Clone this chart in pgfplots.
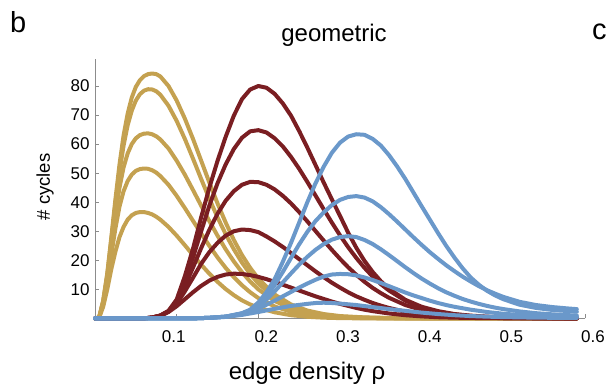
\documentclass[border=0pt]{standalone}
\usepackage{fontspec}
\setmainfont{Liberation Sans}
\usepackage{pgfplots}
\pgfplotsset{compat=1.18}
\definecolor{gold}{HTML}{C4A150}
\definecolor{maroon}{HTML}{7A1E22}
\definecolor{steel}{HTML}{6A98CA}
\definecolor{axgray}{HTML}{8C8C8C}
\begin{document}
\begin{tikzpicture}
\path[use as bounding box] (0pt,0pt) rectangle (606pt,388pt);
\begin{axis}[
 at={(95pt,69.6pt)}, anchor=south west, scale only axis,
 width=490pt, height=259.4pt,
 xmin=0, xmax=0.6, ymin=0, ymax=89.3,
 axis lines*=left, axis line style={axgray, line width=0.8pt},
 clip=false,
 xtick={0.2,0.3,0.4,0.5,0.6}, xticklabels={0.2,0.3,0.4,0.5,0.6},
 extra x ticks={0.1}, extra x tick labels={0.1},
 ytick={10,20,30,40,50,60,70,80},
 tick align=inside, major tick length=4pt,
 tick style={axgray, line width=0.8pt},
 every tick label/.append style={font=\fontsize{17}{19}\selectfont},
 /pgf/number format/assume math mode=true,
 xticklabel style={yshift=-9pt, xshift=8pt},
 extra x tick style={xticklabel style={xshift=-11pt}},
 yticklabel style={xshift=-2pt},
 every axis plot/.append style={line width=4pt, line join=round, line cap=round},
]
% gold family
\addplot[gold] coordinates {(0,0)(0.005,0.3)(0.01,6)(0.015,15.5)(0.02,28)(0.025,41)(0.03,53)(0.035,63)(0.04,70.5)(0.045,76)(0.05,79.7)(0.055,82)(0.06,83.4)(0.065,84.1)(0.07,84.3)(0.075,84.1)(0.08,83.3)(0.09,80)(0.1,75)(0.11,68.8)(0.12,61.8)(0.13,54.3)(0.14,46.8)(0.15,39.6)(0.16,33)(0.17,27)(0.18,21.8)(0.19,17.4)(0.2,13.7)(0.22,8.2)(0.24,4.8)(0.26,2.7)(0.28,1.5)(0.3,0.8)(0.33,0.35)(0.36,0.15)(0.4,0.05)(0.45,0)(0.59,0)};
\addplot[gold] coordinates {(0,0)(0.005,0.3)(0.01,6)(0.015,15)(0.02,27)(0.025,39.5)(0.03,50.5)(0.035,59.5)(0.04,66.5)(0.045,71.5)(0.05,75)(0.055,77.2)(0.06,78.4)(0.065,78.9)(0.07,78.8)(0.075,78.2)(0.08,77)(0.09,73.2)(0.1,68)(0.11,61.8)(0.12,55)(0.13,48)(0.14,41.2)(0.15,34.8)(0.16,29)(0.17,23.8)(0.18,19.2)(0.19,15.3)(0.2,12)(0.22,7.2)(0.24,4.1)(0.26,2.3)(0.28,1.2)(0.3,0.6)(0.33,0.25)(0.36,0.1)(0.4,0)(0.59,0)};
\addplot[gold] coordinates {(0,0)(0.005,0.3)(0.01,5.5)(0.015,14)(0.02,25)(0.025,36)(0.03,45)(0.035,52)(0.04,56.8)(0.045,60)(0.05,62)(0.055,63.1)(0.06,63.6)(0.065,63.7)(0.07,63.4)(0.075,62.7)(0.08,61.6)(0.09,58.5)(0.1,54.3)(0.11,49.5)(0.12,44.2)(0.13,38.8)(0.14,33.5)(0.15,28.5)(0.16,23.8)(0.17,19.6)(0.18,15.9)(0.19,12.7)(0.2,10)(0.22,6)(0.24,3.4)(0.26,1.9)(0.28,1)(0.3,0.5)(0.33,0.2)(0.36,0.06)(0.4,0)(0.59,0)};
\addplot[gold] coordinates {(0,0)(0.005,0.3)(0.01,5)(0.015,12.5)(0.02,22)(0.025,31)(0.03,38.5)(0.035,43.8)(0.04,47.3)(0.045,49.5)(0.05,50.8)(0.055,51.4)(0.06,51.6)(0.065,51.5)(0.07,51)(0.075,50.2)(0.08,49)(0.09,46)(0.1,42.2)(0.11,38)(0.12,33.6)(0.13,29.2)(0.14,25)(0.15,21)(0.16,17.4)(0.17,14.2)(0.18,11.4)(0.19,9)(0.2,7)(0.22,4.1)(0.24,2.3)(0.26,1.2)(0.28,0.6)(0.3,0.3)(0.33,0.1)(0.36,0)(0.59,0)};
\addplot[gold] coordinates {(0,0)(0.005,0.2)(0.01,4)(0.015,10)(0.02,17)(0.025,23)(0.03,28)(0.035,31.5)(0.04,34)(0.045,35.5)(0.05,36.3)(0.055,36.6)(0.06,36.6)(0.065,36.3)(0.07,35.8)(0.075,35)(0.08,34)(0.09,31.5)(0.1,28.5)(0.11,25.2)(0.12,21.8)(0.13,18.5)(0.14,15.4)(0.15,12.6)(0.16,10.1)(0.17,8)(0.18,6.2)(0.19,4.8)(0.2,3.7)(0.22,2.1)(0.24,1.1)(0.26,0.55)(0.28,0.25)(0.3,0.1)(0.33,0)(0.59,0)};
% red family
\addplot[maroon] coordinates {(0,0)(0.06,0)(0.07,0.3)(0.08,1)(0.09,2.6)(0.1,6.5)(0.11,14.5)(0.12,24)(0.13,34.8)(0.14,45)(0.15,54.2)(0.16,62.5)(0.17,69.8)(0.18,75.5)(0.19,78.8)(0.2,80)(0.21,79.4)(0.22,77.3)(0.23,74)(0.24,69.8)(0.25,64.5)(0.26,58.8)(0.27,52.8)(0.28,46.8)(0.29,41)(0.3,35.3)(0.31,29.5)(0.32,24.3)(0.33,19.8)(0.34,16)(0.35,12.8)(0.36,10.2)(0.38,6.4)(0.4,4)(0.42,2.5)(0.44,1.5)(0.46,0.95)(0.48,0.6)(0.5,0.35)(0.53,0.2)(0.56,0.1)(0.59,0.05)};
\addplot[maroon] coordinates {(0,0)(0.06,0)(0.07,0.3)(0.08,1)(0.09,2.5)(0.1,6)(0.11,12.5)(0.12,21)(0.13,30)(0.14,38.8)(0.15,46.5)(0.16,53)(0.17,58.3)(0.18,62.2)(0.19,64.4)(0.2,64.8)(0.21,64)(0.22,62)(0.23,59.2)(0.24,55.6)(0.25,51.5)(0.26,47)(0.27,42.3)(0.28,37.6)(0.29,33)(0.3,28.6)(0.31,24.5)(0.32,20.8)(0.33,17.4)(0.34,14.4)(0.35,11.8)(0.36,9.6)(0.38,6.1)(0.4,3.8)(0.42,2.3)(0.44,1.4)(0.46,0.85)(0.48,0.5)(0.5,0.3)(0.53,0.15)(0.56,0.07)(0.59,0.03)};
\addplot[maroon] coordinates {(0,0)(0.06,0)(0.07,0.3)(0.08,0.9)(0.09,2.4)(0.1,5.5)(0.11,11)(0.12,17.5)(0.13,24.2)(0.14,30.5)(0.15,36)(0.16,40.5)(0.17,43.8)(0.18,46)(0.19,47)(0.2,46.9)(0.21,46)(0.22,44.4)(0.23,42.2)(0.24,39.6)(0.25,36.6)(0.26,33.4)(0.27,30.1)(0.28,26.8)(0.29,23.6)(0.3,20.5)(0.31,17.6)(0.32,15)(0.33,12.6)(0.34,10.5)(0.35,8.7)(0.36,7.1)(0.38,4.6)(0.4,2.9)(0.42,1.8)(0.44,1.1)(0.46,0.65)(0.48,0.4)(0.5,0.22)(0.53,0.1)(0.56,0.05)(0.59,0.02)};
\addplot[maroon] coordinates {(0,0)(0.06,0)(0.07,0.3)(0.08,0.9)(0.09,2.3)(0.1,5)(0.11,9.3)(0.12,14)(0.13,18.8)(0.14,22.8)(0.15,26)(0.16,28.5)(0.17,30)(0.18,30.6)(0.19,30.4)(0.2,29.7)(0.21,28.2)(0.22,26.5)(0.23,24.6)(0.24,22.5)(0.25,20.4)(0.26,18.3)(0.27,16.2)(0.28,14.2)(0.29,12.3)(0.3,10.6)(0.31,9)(0.32,7.6)(0.33,6.4)(0.34,5.3)(0.35,4.4)(0.36,3.6)(0.38,2.3)(0.4,1.45)(0.42,0.9)(0.44,0.55)(0.46,0.33)(0.48,0.2)(0.5,0.1)(0.55,0.03)(0.59,0)};
\addplot[maroon] coordinates {(0,0)(0.06,0)(0.07,0.3)(0.08,0.9)(0.09,2.2)(0.1,4.2)(0.11,6.6)(0.12,9)(0.13,11.2)(0.14,13)(0.15,14.3)(0.16,15.1)(0.17,15.4)(0.18,15.3)(0.19,14.9)(0.2,14.3)(0.21,13.5)(0.22,12.6)(0.23,11.6)(0.24,10.6)(0.25,9.6)(0.26,8.6)(0.27,7.6)(0.28,6.7)(0.29,5.8)(0.3,5)(0.31,4.3)(0.32,3.6)(0.33,3)(0.34,2.5)(0.35,2.1)(0.36,1.7)(0.38,1.1)(0.4,0.7)(0.42,0.4)(0.44,0.25)(0.46,0.15)(0.5,0.05)(0.55,0)(0.59,0)};
% blue family
\addplot[steel] coordinates {(0,0)(0.12,0)(0.14,0.2)(0.16,0.6)(0.18,1.8)(0.19,3)(0.2,5.5)(0.21,9)(0.22,13.5)(0.23,19.5)(0.24,26)(0.25,33)(0.26,40)(0.27,46.5)(0.28,52.2)(0.29,57)(0.3,60.5)(0.31,62.6)(0.32,63.4)(0.33,63.2)(0.34,61.8)(0.35,59.5)(0.36,56.2)(0.37,52.3)(0.38,48)(0.39,43.3)(0.4,38.6)(0.41,34)(0.42,29.4)(0.43,25)(0.44,21)(0.45,17.3)(0.46,14.1)(0.47,11.6)(0.48,9.5)(0.49,7.9)(0.5,6.6)(0.52,4.7)(0.54,3.6)(0.56,2.9)(0.58,2.5)(0.59,2.3)};
\addplot[steel] coordinates {(0,0)(0.12,0)(0.14,0.2)(0.16,0.6)(0.18,1.7)(0.19,2.8)(0.2,4.8)(0.21,7.8)(0.22,11.5)(0.23,16)(0.24,20.8)(0.25,25.5)(0.26,29.8)(0.27,33.5)(0.28,36.5)(0.29,39)(0.3,40.8)(0.31,41.8)(0.32,42.1)(0.33,41.6)(0.34,40.3)(0.35,38.3)(0.36,35.9)(0.37,33.3)(0.38,30.6)(0.39,27.9)(0.4,25.3)(0.41,22.8)(0.42,20.5)(0.43,18.3)(0.44,16.3)(0.45,14.4)(0.46,12.7)(0.47,11.1)(0.48,9.7)(0.49,8.5)(0.5,7.4)(0.52,5.7)(0.54,4.6)(0.56,3.9)(0.58,3.4)(0.59,3.2)};
\addplot[steel] coordinates {(0,0)(0.12,0)(0.14,0.2)(0.16,0.6)(0.18,1.6)(0.19,2.6)(0.2,4.1)(0.21,6.5)(0.22,9.3)(0.23,12.4)(0.24,15.5)(0.25,18.5)(0.26,21.2)(0.27,23.6)(0.28,25.6)(0.29,27.1)(0.3,28)(0.31,28.3)(0.32,28)(0.33,27)(0.34,25.6)(0.35,23.8)(0.36,21.8)(0.37,19.7)(0.38,17.6)(0.39,15.6)(0.4,13.7)(0.41,12)(0.42,10.4)(0.43,9)(0.44,7.8)(0.45,6.7)(0.46,5.8)(0.47,5)(0.48,4.3)(0.49,3.7)(0.5,3.2)(0.52,2.4)(0.54,1.8)(0.56,1.4)(0.58,1.1)(0.59,1)};
\addplot[steel] coordinates {(0,0)(0.12,0)(0.14,0.2)(0.16,0.6)(0.18,1.5)(0.19,2.3)(0.2,3.4)(0.21,4.7)(0.22,6.1)(0.23,7.6)(0.24,9.1)(0.25,10.6)(0.26,12)(0.27,13.3)(0.28,14.4)(0.29,15.1)(0.3,15.3)(0.31,15.2)(0.32,14.8)(0.33,14.1)(0.34,13.2)(0.35,12.2)(0.36,11.1)(0.37,10)(0.38,8.9)(0.39,7.9)(0.4,7)(0.41,6.1)(0.42,5.3)(0.43,4.6)(0.44,4)(0.45,3.5)(0.46,3)(0.47,2.6)(0.48,2.2)(0.49,1.9)(0.5,1.6)(0.52,1.2)(0.54,0.9)(0.56,0.7)(0.58,0.55)(0.59,0.5)};
\addplot[steel] coordinates {(0,0)(0.12,0)(0.14,0.2)(0.16,0.5)(0.18,1.2)(0.2,2.2)(0.22,3.3)(0.24,4.3)(0.26,5)(0.27,5.3)(0.28,5.4)(0.29,5.3)(0.3,5.1)(0.32,4.6)(0.34,3.9)(0.36,3.2)(0.38,2.6)(0.4,2)(0.42,1.5)(0.44,1.1)(0.46,0.8)(0.48,0.6)(0.5,0.45)(0.54,0.25)(0.59,0.15)};
\end{axis}
\node[anchor=base west, font=\fontsize{29}{34}\selectfont, inner sep=0pt] at (10pt,355pt) {b};
\node[anchor=base, font=\fontsize{24}{28}\selectfont, inner sep=0pt] at (334pt,346pt) {geometric};
\node[anchor=base west, font=\fontsize{29}{34}\selectfont, inner sep=0pt] at (592pt,348pt) {c};
\node[rotate=90, font=\fontsize{18.5}{22}\selectfont, inner sep=0pt] at (45pt,201pt) {\# cycles};
\node[anchor=base, font=\fontsize{24}{28}\selectfont, inner sep=0pt] at (307pt,8pt) {edge density ρ};
\end{tikzpicture}
\end{document}
